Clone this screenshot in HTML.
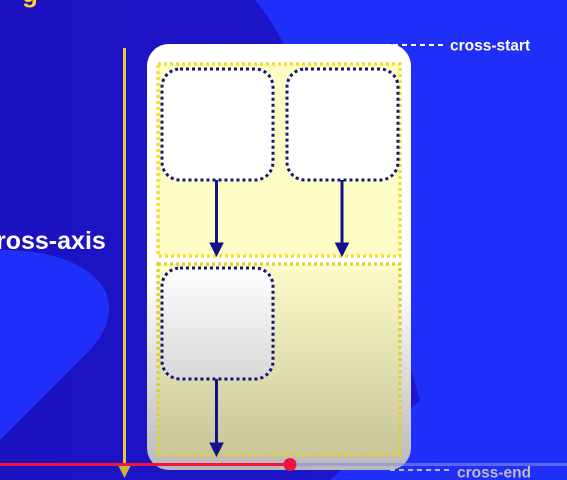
<!DOCTYPE html>
<html><head><meta charset="utf-8"><style>
html,body{margin:0;padding:0;width:567px;height:480px;overflow:hidden;background:#1d13c4}
svg{display:block}
text{font-family:"Liberation Sans",sans-serif;font-weight:bold}
</style></head><body>
<svg width="567" height="480" viewBox="0 0 567 480">
<defs>
<linearGradient id="bg" x1="0" y1="0" x2="1" y2="0"><stop offset="0" stop-color="#1c12c0"/><stop offset="1" stop-color="#1d17d0"/></linearGradient>
<linearGradient id="cont" x1="0" y1="0" x2="0" y2="1"><stop offset="0.55" stop-color="#ffffff"/><stop offset="1" stop-color="#b9b9b9"/></linearGradient>
<linearGradient id="row2" x1="0" y1="0" x2="0" y2="1"><stop offset="0" stop-color="#fdfcc8"/><stop offset="1" stop-color="#c8c69a"/></linearGradient>
<linearGradient id="box3" x1="0" y1="0" x2="0" y2="1"><stop offset="0" stop-color="#ffffff"/><stop offset="1" stop-color="#d8d8d8"/></linearGradient>
</defs>
<rect width="567" height="480" fill="url(#bg)"/>
<path d="M255 0 L567 0 L567 480 L330 480 L420 400 Q360 200 300 80 Q280 30 255 0Z" fill="#1f2ef8"/>
<path d="M0 250 Q80 250 105 290 Q118 320 90 350 L0 440Z" fill="#1f2ef8"/>
<text x="22" y="2" fill="#ffd21f" font-size="26">g</text>
<text x="-4" y="249" fill="#fff" font-size="25">ross-axis</text>
<line x1="124.5" y1="48" x2="124.5" y2="467" stroke="#eac73c" stroke-width="3"/>
<polygon points="118,465 131,465 124.5,478" fill="#c8b03a"/>
<rect x="147" y="44" width="264" height="426" rx="22" fill="url(#cont)"/>
<rect x="158" y="64" width="242" height="192" fill="#fdfcc4" stroke="#f2df2e" stroke-width="3.5" stroke-dasharray="3 3"/>
<rect x="158" y="264" width="242" height="191" fill="url(#row2)" stroke="#e3d030" stroke-width="3.5" stroke-dasharray="3 3"/>
<rect x="162" y="69" width="111" height="111" rx="18" fill="#fff" stroke="#17137a" stroke-width="3" stroke-dasharray="3 3"/>
<rect x="287" y="69" width="111" height="111" rx="18" fill="#fff" stroke="#17137a" stroke-width="3" stroke-dasharray="3 3"/>
<rect x="162" y="268" width="111" height="111" rx="18" fill="url(#box3)" stroke="#17137a" stroke-width="3" stroke-dasharray="3 3"/>
<g fill="#14128a" stroke="#14128a">
<line x1="216.5" y1="180" x2="216.5" y2="246" stroke-width="3"/><polygon points="210,243 223,243 216.5,256"/>
<line x1="342" y1="180" x2="342" y2="246" stroke-width="3"/><polygon points="335.5,243 348.5,243 342,256"/>
<line x1="216.5" y1="379" x2="216.5" y2="445" stroke-width="3"/><polygon points="210,443 223,443 216.5,456"/>
</g>
<line x1="393" y1="45" x2="443" y2="45" stroke="#fff" stroke-width="2" stroke-dasharray="5 4"/>
<text x="450" y="50.5" fill="#fff" font-size="15.5">cross-start</text>
<line x1="390" y1="470" x2="450" y2="470" stroke="#bbb" stroke-width="2" stroke-dasharray="5 4"/>
<text x="457" y="477.5" fill="#bdbdbd" font-size="15.5">cross-end</text>
<line x1="0" y1="464.5" x2="567" y2="464.5" stroke="#8a8ae6" stroke-width="3" stroke-opacity="0.6"/>
<line x1="0" y1="464.5" x2="290" y2="464.5" stroke="#f0153c" stroke-width="3"/>
<circle cx="290" cy="464.5" r="6.5" fill="#f0153c"/>
</svg>
</body></html>
